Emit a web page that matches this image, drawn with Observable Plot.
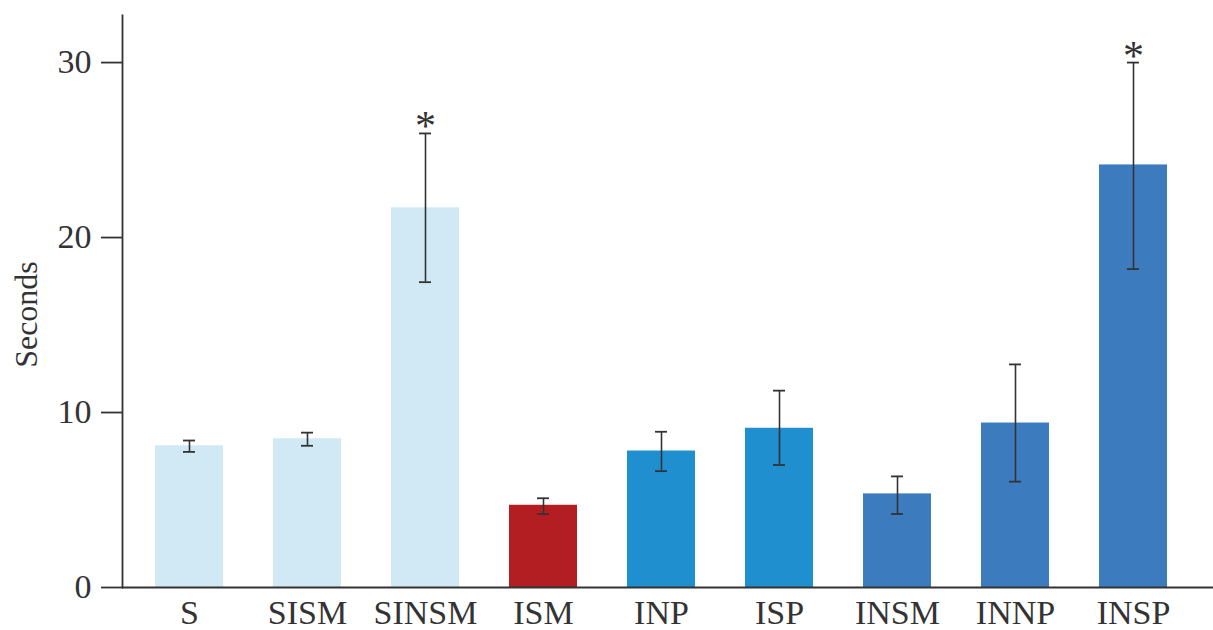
<!DOCTYPE html>
<html>
<head>
<meta charset="utf-8">
<script src="https://cdn.jsdelivr.net/npm/d3@7"></script>
<script src="https://cdn.jsdelivr.net/npm/@observablehq/plot@0.6"></script>
<style>
  html, body { margin: 0; padding: 0; background: #fff; }
</style>
</head>
<body>
<div id="chart"></div>
<script>
const categories = ["S", "SISM", "SINSM", "ISM", "INP", "ISP", "INSM", "INNP", "INSP"];
const groups = ["S", "S", "S", "ISM", "IP", "IP", "IN", "IN", "IN"];
const means = [8.1, 8.5, 21.7, 4.7, 7.8, 9.1, 5.35, 9.4, 24.15];
const errLow = [7.75, 8.1, 17.45, 4.2, 6.65, 7.0, 4.2, 6.05, 18.2];
const errHigh = [8.4, 8.85, 25.95, 5.1, 8.9, 11.25, 6.35, 12.75, 30.0];
const significant = ["SINSM", "INSP"];
const yTicks = [0, 10, 20, 30];
const yLabel = "Seconds";

const data = categories.map((c, i) => ({
  cat: c, group: groups[i], mean: means[i], lo: errLow[i], hi: errHigh[i]
}));
const stars = data.filter(d => significant.includes(d.cat));

const ink = "#333";
const chart = Plot.plot({
  width: 1213,
  height: 630,
  marginLeft: 122,
  marginRight: 0,
  marginTop: 15,
  marginBottom: 43,
  style: {fontFamily: "'Liberation Serif', 'Times New Roman', serif", color: ink, background: "#fff"},
  x: {type: "band", domain: categories, paddingInner: 0.426, paddingOuter: 0.314, align: 0.416, label: null},
  y: {domain: [0, 32.69], label: null},
  color: {domain: ["S", "ISM", "IP", "IN"], range: ["#d0e9f4", "#b31e23", "#1f8fd0", "#3d7bbf"]},
  marks: [
    Plot.barY(data, {x: "cat", y: "mean", fill: "group"}),
    Plot.ruleX(data, {x: "cat", y1: "lo", y2: "hi", stroke: ink, strokeWidth: 1.6}),
    Plot.tickY(data, {x: "cat", y: "hi", stroke: ink, strokeWidth: 1.8, insetLeft: 28, insetRight: 28}),
    Plot.tickY(data, {x: "cat", y: "lo", stroke: ink, strokeWidth: 1.8, insetLeft: 28, insetRight: 28}),
    Plot.text(stars, {x: "cat", y: "hi", text: () => "*", fontSize: 42, lineAnchor: "bottom", dy: 7, fill: ink}),
    Plot.frame({anchor: "left", stroke: ink, strokeWidth: 1.8}),
    Plot.ruleY([0], {stroke: ink, strokeWidth: 1.8}),
    Plot.axisY({ticks: yTicks, tickSize: 21, tickPadding: 10, fontSize: 34, label: null, stroke: ink, strokeWidth: 1.8}),
    Plot.axisX({tickSize: 0, tickPadding: 12, fontSize: 34, label: null}),
    Plot.text([yLabel], {frameAnchor: "left", rotate: -90, dx: -96, dy: 13, fontSize: 32, fill: ink, textAnchor: "middle"})
  ]
});
document.getElementById("chart").appendChild(chart);
</script>
</body>
</html>
